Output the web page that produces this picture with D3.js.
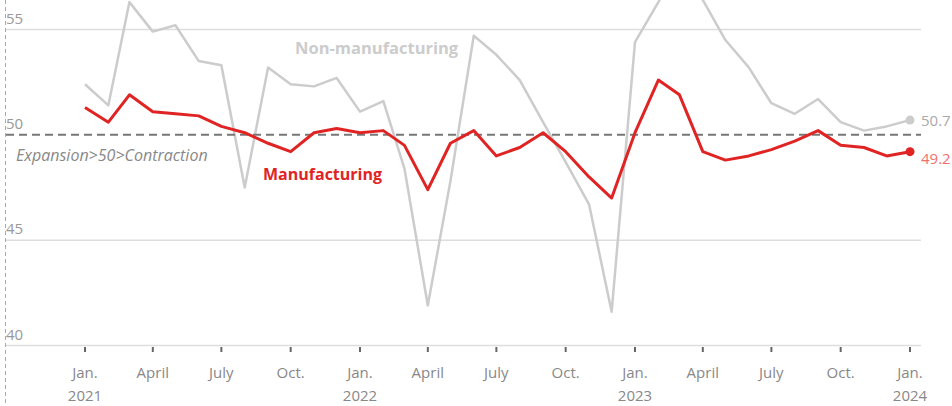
<!DOCTYPE html>
<html>
<head>
<meta charset="utf-8">
<script src="https://cdn.jsdelivr.net/npm/d3@7"></script>
<style>
  body { margin: 0; background: #fff; }
  svg { display: block; font-family: "Open Sans", Lato, sans-serif; }
</style>
</head>
<body>
<div id="chart"></div>
<script>
// monthly PMI readings, Jan 2021 .. Jan 2024
const months = [
  '2021-01', '2021-02', '2021-03', '2021-04', '2021-05', '2021-06',
  '2021-07', '2021-08', '2021-09', '2021-10', '2021-11', '2021-12',
  '2022-01', '2022-02', '2022-03', '2022-04', '2022-05', '2022-06',
  '2022-07', '2022-08', '2022-09', '2022-10', '2022-11', '2022-12',
  '2023-01', '2023-02', '2023-03', '2023-04', '2023-05', '2023-06',
  '2023-07', '2023-08', '2023-09', '2023-10', '2023-11', '2023-12',
  '2024-01',
];
const manufacturing = [
  51.3, 50.6, 51.9, 51.1, 51.0, 50.9, 50.4, 50.1, 49.6, 49.2, 50.1, 50.3,
  50.1, 50.2, 49.5, 47.4, 49.6, 50.2, 49.0, 49.4, 50.1, 49.2, 48.0, 47.0,
  50.1, 52.6, 51.9, 49.2, 48.8, 49.0, 49.3, 49.7, 50.2, 49.5, 49.4, 49.0,
  49.2,
];
const nonManufacturing = [
  52.4, 51.4, 56.3, 54.9, 55.2, 53.5, 53.3, 47.5, 53.2, 52.4, 52.3, 52.7,
  51.1, 51.6, 48.4, 41.9, 47.8, 54.7, 53.8, 52.6, 50.6, 48.7, 46.7, 41.6,
  54.4, 56.3, 58.2, 56.4, 54.5, 53.2, 51.5, 51.0, 51.7, 50.6, 50.2, 50.4,
  50.7,
];
const yTicks = [40, 45, 50, 55];
const xTicks = [
  ['2021-01', 'Jan.', '2021'], ['2021-04', 'April', ''], ['2021-07', 'July', ''], ['2021-10', 'Oct.', ''],
  ['2022-01', 'Jan.', '2022'], ['2022-04', 'April', ''], ['2022-07', 'July', ''], ['2022-10', 'Oct.', ''],
  ['2023-01', 'Jan.', '2023'], ['2023-04', 'April', ''], ['2023-07', 'July', ''], ['2023-10', 'Oct.', ''],
  ['2024-01', 'Jan.', '2024'],
];

const width = 952;
const height = 406;
const parse = d3.timeParse('%Y-%m');
const dates = months.map(parse);

const svg = d3.select('#chart').append('svg')
  .attr('width', width)
  .attr('height', height);

const x = d3.scaleTime()
  .domain([parse('2021-01'), parse('2024-01')])
  .range([85, 910]);

const y = d3.scaleLinear()
  .domain([40, 55])
  .range([345.5, 29.5]);

// left dashed edge
svg.append('line')
  .attr('x1', 5.5).attr('x2', 5.5)
  .attr('y1', 0).attr('y2', height)
  .attr('stroke', '#aaa')
  .attr('stroke-width', 1)
  .attr('stroke-dasharray', '4,3');

// gridlines + y labels
const yAxis = svg.append('g');
yTicks.forEach((t) => {
  if (t !== 50) {
    yAxis.append('line')
      .attr('x1', 6).attr('x2', 921)
      .attr('y1', y(t)).attr('y2', y(t))
      .attr('stroke', '#ddd')
      .attr('stroke-width', 1.5);
  }
  yAxis.append('text')
    .attr('x', 6)
    .attr('y', y(t) - 6)
    .attr('fill', '#999')
    .style('font-size', '15px')
    .text(t);
});

// x ticks
const xAxis = svg.append('g');
xTicks.forEach(([m, l1, l2]) => {
  const px = x(parse(m));
  xAxis.append('line')
    .attr('x1', px).attr('x2', px)
    .attr('y1', 347).attr('y2', 352)
    .attr('stroke', '#666')
    .attr('stroke-width', 2);
  xAxis.append('text')
    .attr('x', px).attr('y', 378)
    .attr('text-anchor', 'middle')
    .attr('fill', '#888')
    .style('font-size', '15px')
    .text(l1);
  if (l2) {
    xAxis.append('text')
      .attr('x', px).attr('y', 401)
      .attr('text-anchor', 'middle')
      .attr('fill', '#888')
      .style('font-size', '15px')
      .text(l2);
  }
});

const line = d3.line()
  .x((d, i) => x(dates[i]))
  .y((d) => y(d));

svg.append('path')
  .datum(nonManufacturing)
  .attr('fill', 'none')
  .attr('stroke', '#ccc')
  .attr('stroke-width', 2.5)
  .attr('stroke-linejoin', 'round')
  .attr('d', line);

// 50 threshold
svg.append('line')
  .attr('x1', 6).attr('x2', 921)
  .attr('y1', y(50)).attr('y2', y(50))
  .attr('stroke', '#777')
  .attr('stroke-width', 2)
  .attr('stroke-dasharray', '8,5');

svg.append('path')
  .datum(manufacturing)
  .attr('fill', 'none')
  .attr('stroke', '#e02424')
  .attr('stroke-width', 3)
  .attr('stroke-linejoin', 'round')
  .attr('d', line);

const last = dates.length - 1;
svg.append('circle')
  .attr('cx', x(dates[last])).attr('cy', y(nonManufacturing[last]))
  .attr('r', 4.5).attr('fill', '#ccc');
svg.append('circle')
  .attr('cx', x(dates[last])).attr('cy', y(manufacturing[last]))
  .attr('r', 4.5).attr('fill', '#e02424');

svg.append('text')
  .attr('x', 921).attr('y', y(nonManufacturing[last]) + 6)
  .attr('fill', '#aaa')
  .style('font-size', '15px')
  .text(nonManufacturing[last]);
svg.append('text')
  .attr('x', 921).attr('y', y(manufacturing[last]) + 12)
  .attr('fill', '#f07070')
  .style('font-size', '15px')
  .text(manufacturing[last]);

// labels
svg.append('text')
  .attr('x', 295).attr('y', 54)
  .attr('fill', '#ccc')
  .style('font-size', '16.5px')
  .style('font-weight', 'bold')
  .text('Non-manufacturing');
svg.append('text')
  .attr('x', 263).attr('y', 180)
  .attr('fill', '#e02424')
  .style('font-size', '16px')
  .style('font-weight', 'bold')
  .text('Manufacturing');
svg.append('text')
  .attr('x', 16).attr('y', 161)
  .attr('fill', '#888')
  .style('font-size', '16px')
  .style('font-style', 'italic')
  .text('Expansion>50>Contraction');
</script>
</body>
</html>
